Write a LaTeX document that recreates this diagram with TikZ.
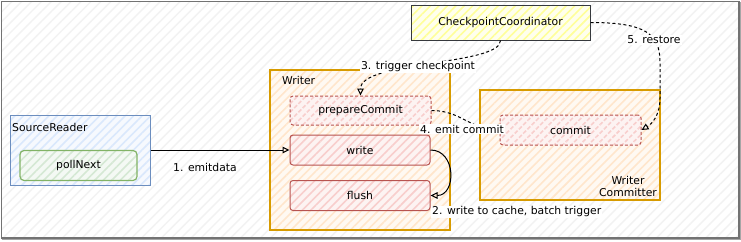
\documentclass[tikz,border=0pt]{standalone}
\usepackage{fontspec}
\setmainfont{DejaVu Sans}
\usetikzlibrary{patterns.meta,arrows.meta}
\definecolor{orF}{HTML}{FFE6CC}\definecolor{orD}{HTML}{D79B00}
\definecolor{rdF}{HTML}{F8CECC}\definecolor{rdD}{HTML}{B85450}
\definecolor{blF}{HTML}{DAE8FC}\definecolor{blD}{HTML}{6C8EBF}
\definecolor{gnF}{HTML}{D5E8D4}\definecolor{gnD}{HTML}{82B366}
\definecolor{ylF}{HTML}{FFFF88}\definecolor{ylD}{HTML}{36393D}
\tikzset{
  hatchbox/.style 2 args={draw=#2, preaction={fill=#1!25}, pattern={Lines[angle=45,distance=6pt,line width=1.6pt]}, pattern color=#1},
  container/.style 2 args={hatchbox={#1}{#2}, line width=1.3pt, inner sep=0pt},
  redbox/.style={hatchbox={rdF}{rdD}, line width=1pt, rounded corners=3pt, minimum width=140pt, minimum height=30pt},
  dashbox/.style={redbox, dash pattern=on 3pt off 2pt},
  conn/.style={line width=1pt, black},
  dconn/.style={conn, dash pattern=on 3pt off 2.5pt},
  tip/.style={-{Triangle[open,length=7pt,width=6.5pt]}},
  lbl/.style={fill=white, inner sep=1pt},
  plain/.style={inner sep=0pt}
}
\begin{document}
\begin{tikzpicture}[x=1pt,y=-1pt,font=\fontsize{10.8}{13}\selectfont]
\useasboundingbox (0,0) rectangle (741,241);
% background
\fill[white] (0,0) rectangle (741,241);
\fill[pattern={Lines[angle=45,distance=7pt,line width=1.4pt]}, pattern color=black!5] (1.5,1.5) rectangle (739,238);
\draw[black!55, line width=1.5pt] (1.5,1.5) rectangle (739,238);
\draw[black!35, line width=1pt] (2,239.5) -- (740,239.5) -- (740,2);

% containers
\node[container={orF}{orD}, minimum width=180pt, minimum height=160pt] (writer) at (360,150) {};
\node[plain, anchor=west] (writerlbl) at (282,80) {Writer};
\node[container={orF}{orD}, minimum width=180pt, minimum height=110pt] (wc) at (570,145) {};
\node[plain, align=center] (wclbl) at (628,186) {Writer\\[-1pt]Committer};
\node[container={blF}{blD}, line width=1pt, minimum width=140pt, minimum height=70pt] (sr) at (80,150) {};
\node[plain, anchor=west] (srlbl) at (12,127) {SourceReader};
\node[hatchbox={gnF}{gnD}, line width=1.2pt, rounded corners=4pt, minimum width=117pt, minimum height=30pt] (poll) at (78.5,165.5) {pollNext};

% coordinator
\node[hatchbox={ylF}{ylD}, preaction={fill=ylF!15}, pattern color=ylF!85, line width=1pt, minimum width=179pt, minimum height=35pt] (cc) at (500.5,22.5) {CheckpointCoordinator};

% writer steps
\node[dashbox, minimum width=141pt, minimum height=29pt] (prep) at (360.5,110.5) {prepareCommit};
\node[redbox] (write) at (360,150) {write};
\node[redbox] (flush) at (360,195.5) {flush};
\node[dashbox, minimum width=141pt] (commit) at (570.5,130) {commit};

% connectors
\draw[conn, tip] (sr.east) -- (write.west);
\node[plain] (l1) at (205,167) {1. emitdata};

\draw[conn, tip] (write.east) .. controls +(26,0) and +(26,0) .. (flush.east);
\node[lbl, anchor=west] (l2) at (431,212) {2. write to cache, batch trigger};

\draw[dconn, tip] (cc.south) .. controls +(0,25) and +(0,-35) .. (prep.north);
\node[lbl] (l3) at (418,67) {3. trigger checkpoint};

\draw[dconn] (prep.east) .. controls +(30,0) and +(-30,0) .. (commit.west);
\node[lbl] (l4) at (462,129) {4. emit commit};

\coordinate (r1) at (660,62);
\coordinate (r2) at (660,98);
\draw[dconn, tip] (cc.east) .. controls +(55,0) and +(0,-28) .. (r1) -- (r2) .. controls +(0,18) and +(10,-6) .. (commit.east);
\node[lbl] (l5) at (654,40) {5. restore};
\end{tikzpicture}
\end{document}
